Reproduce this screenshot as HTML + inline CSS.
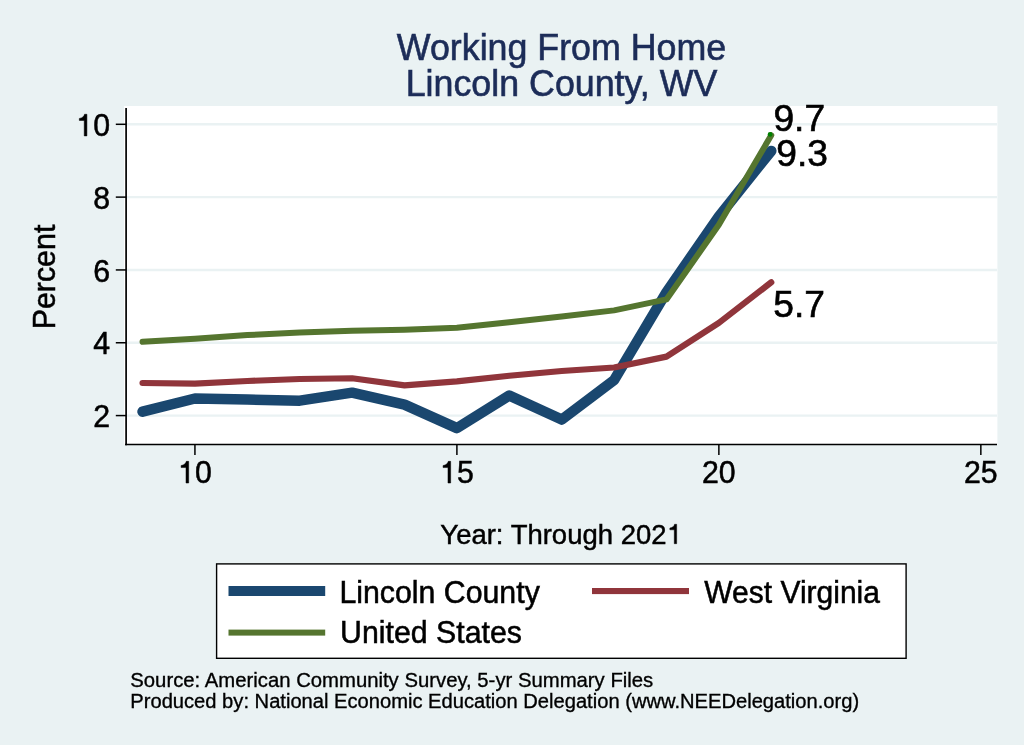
<!DOCTYPE html>
<html><head><meta charset="utf-8"><style>
html,body{margin:0;padding:0;background:#eaf2f3;}
svg{display:block;will-change:transform;}
text{font-family:"Liberation Sans",sans-serif;}
</style></head><body>
<svg width="1024" height="745" viewBox="0 0 1024 745">
<rect x="0" y="0" width="1024" height="745" fill="#eaf2f3"/>
<rect x="124" y="106" width="873.4" height="338.5" fill="#ffffff"/>
<g stroke="#eaf2f3" stroke-width="2.4" fill="none">
<line x1="127" y1="415.58" x2="997" y2="415.58"/>
<line x1="127" y1="342.76" x2="997" y2="342.76"/>
<line x1="127" y1="269.94" x2="997" y2="269.94"/>
<line x1="127" y1="197.12" x2="997" y2="197.12"/>
<line x1="127" y1="124.30" x2="997" y2="124.30"/>
</g>
<g stroke="#000" fill="none">
<line x1="126.1" y1="108" x2="126.1" y2="445.3" stroke-width="1.7"/>
<line x1="125.1" y1="444.45" x2="997" y2="444.45" stroke-width="1.5"/>
<line x1="115.8" y1="415.58" x2="126" y2="415.58" stroke-width="1.5"/>
<line x1="115.8" y1="342.76" x2="126" y2="342.76" stroke-width="1.5"/>
<line x1="115.8" y1="269.94" x2="126" y2="269.94" stroke-width="1.5"/>
<line x1="115.8" y1="197.12" x2="126" y2="197.12" stroke-width="1.5"/>
<line x1="115.8" y1="124.30" x2="126" y2="124.30" stroke-width="1.5"/>
<line x1="194.93" y1="444" x2="194.93" y2="454.9" stroke-width="1.5"/>
<line x1="456.90" y1="444" x2="456.90" y2="454.9" stroke-width="1.5"/>
<line x1="718.87" y1="444" x2="718.87" y2="454.9" stroke-width="1.5"/>
<line x1="980.84" y1="444" x2="980.84" y2="454.9" stroke-width="1.5"/>
</g>
<text transform="translate(110.00,427.18) scale(1,1.02)" font-size="30.3" fill="#000" stroke="#000" stroke-width="0.51" text-anchor="end">2</text>
<text transform="translate(110.00,354.36) scale(1,1.02)" font-size="30.3" fill="#000" stroke="#000" stroke-width="0.51" text-anchor="end">4</text>
<text transform="translate(110.00,281.54) scale(1,1.02)" font-size="30.3" fill="#000" stroke="#000" stroke-width="0.51" text-anchor="end">6</text>
<text transform="translate(110.00,208.72) scale(1,1.02)" font-size="30.3" fill="#000" stroke="#000" stroke-width="0.51" text-anchor="end">8</text>
<path d="M84.24 135.90 L86.90 135.90 L86.90 114.27 L84.54 114.27 C84.02 116.58 82.36 117.97 79.33 118.44 L79.33 120.45 L84.24 120.45 Z" fill="#000" stroke="#000" stroke-width="0.51" stroke-linejoin="miter"/>
<text transform="translate(93.15,135.90) scale(1,1.02)" font-size="30.3" fill="#000" stroke="#000" stroke-width="0.51">0</text>
<text transform="translate(718.87,483.00) scale(1,1.02)" font-size="30.3" fill="#000" stroke="#000" stroke-width="0.51" text-anchor="middle">20</text>
<text transform="translate(980.84,483.00) scale(1,1.02)" font-size="30.3" fill="#000" stroke="#000" stroke-width="0.51" text-anchor="middle">25</text>
<path d="M186.02 483.00 L188.68 483.00 L188.68 461.37 L186.32 461.37 C185.81 463.68 184.14 465.07 181.11 465.54 L181.11 467.55 L186.02 467.55 Z" fill="#000" stroke="#000" stroke-width="0.51" stroke-linejoin="miter"/>
<text transform="translate(194.93,483.00) scale(1,1.02)" font-size="30.3" fill="#000" stroke="#000" stroke-width="0.51">0</text>
<path d="M447.99 483.00 L450.65 483.00 L450.65 461.37 L448.29 461.37 C447.78 463.68 446.11 465.07 443.08 465.54 L443.08 467.55 L447.99 467.55 Z" fill="#000" stroke="#000" stroke-width="0.51" stroke-linejoin="miter"/>
<text transform="translate(456.90,483.00) scale(1,1.02)" font-size="30.3" fill="#000" stroke="#000" stroke-width="0.51">5</text>
<text transform="translate(54.9,277) rotate(-90) scale(1,1.02)" font-size="30.4" text-anchor="middle" fill="#000" stroke="#000" stroke-width="0.50">Percent</text>
<text transform="translate(440.33,543.7) scale(1.011,1.02)" font-size="27.2" fill="#000" stroke="#000" stroke-width="0.45">Year: Through 202</text>
<path d="M674.27 543.70 L676.66 543.70 L676.66 524.28 L674.54 524.28 C674.08 526.36 672.58 527.61 669.86 528.02 L669.86 529.83 L674.27 529.83 Z" fill="#000" stroke="#000" stroke-width="0.45" stroke-linejoin="miter"/>
<text transform="translate(561.50,59.90) scale(1,1.02)" font-size="35.8" fill="#1c2c58" stroke="#1c2c58" stroke-width="0.60" text-anchor="middle">Working From Home</text>
<text transform="translate(561.50,95.90) scale(1,1.02)" font-size="35.8" fill="#1c2c58" stroke="#1c2c58" stroke-width="0.60" text-anchor="middle">Lincoln County, WV</text>
<path d="M142.54 411.68 L194.93 398.47 L247.32 399.56 L299.72 400.65 L352.11 392.64 L404.51 404.66 L456.90 428.14 L509.29 395.55 L561.69 419.59 L614.08 380.08 L666.48 292.15 L718.87 216.42 L771.26 150.88" stroke="#1a476f" stroke-width="10.5" fill="none" stroke-linejoin="round" stroke-linecap="round"/>
<path d="M142.54 382.99 L194.93 383.54 L247.32 380.99 L299.72 378.99 L352.11 378.26 L404.51 385.36 L456.90 381.35 L509.29 375.71 L561.69 370.98 L614.08 367.52 L666.48 356.60 L718.87 322.92 L771.26 282.32" stroke="#90353b" stroke-width="6.2" fill="none" stroke-linejoin="round" stroke-linecap="round"/>
<path d="M142.54 341.85 L194.93 338.75 L247.32 335.11 L299.72 332.57 L352.11 330.74 L404.51 329.65 L456.90 327.83 L509.29 322.19 L561.69 316.54 L614.08 310.36 L666.48 299.43 L718.87 224.79 L771.26 135.22" stroke="#55752f" stroke-width="6" fill="none" stroke-linejoin="round" stroke-linecap="round"/>
<circle cx="770.1" cy="134.4" r="2.4" fill="#008000"/>
<text transform="translate(773.40,130.90) scale(1,0.98)" font-size="37.2" fill="#000" stroke="#000" stroke-width="0.62">9.7</text>
<text transform="translate(776.20,165.60) scale(1,0.98)" font-size="37.2" fill="#000" stroke="#000" stroke-width="0.62">9.3</text>
<text transform="translate(773.20,316.80) scale(1,0.98)" font-size="37.2" fill="#000" stroke="#000" stroke-width="0.62">5.7</text>
<rect x="216.6" y="563.9" width="689.5" height="94.4" fill="#fff" stroke="#000" stroke-width="1.4"/>
<rect x="228.5" y="586" width="96.7" height="10" fill="#1a476f"/>
<rect x="592" y="588" width="97" height="6.1" fill="#90353b"/>
<rect x="228.5" y="629.6" width="96.7" height="6" fill="#55752f"/>
<text transform="translate(339.40,603.20) scale(1,1.02)" font-size="30.3" fill="#000" stroke="#000" stroke-width="0.51">Lincoln County</text>
<text transform="translate(340.10,643.40) scale(1,1.02)" font-size="30.3" fill="#000" stroke="#000" stroke-width="0.51">United States</text>
<text transform="translate(704.30,603.20) scale(1,1.02)" font-size="30.0" fill="#000" stroke="#000" stroke-width="0.50">West Virginia</text>
<text transform="translate(130.30,687.30) scale(1,1.02)" font-size="20.3" fill="#000" stroke="#000" stroke-width="0.34">Source: American Community Survey, 5-yr Summary Files</text>
<text transform="translate(130.30,708.40) scale(1,1.02)" font-size="20.15" fill="#000" stroke="#000" stroke-width="0.34">Produced by: National Economic Education Delegation (www.NEEDelegation.org)</text>
</svg></body></html>
